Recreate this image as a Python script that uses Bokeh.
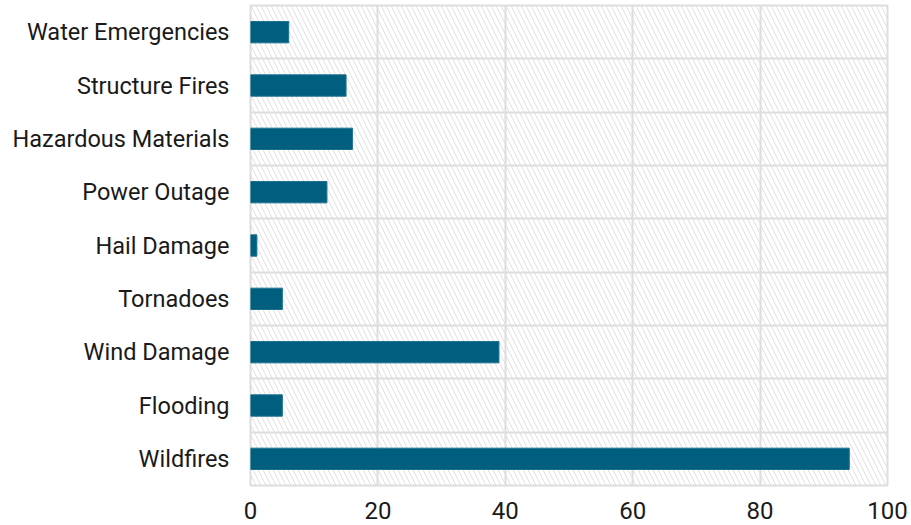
from bokeh.plotting import figure
from bokeh.models import FixedTicker, BoxAnnotation, ColumnDataSource
from bokeh.embed import file_html
from bokeh.resources import INLINE

categories = ["Wildfires", "Flooding", "Wind Damage", "Tornadoes", "Hail Damage",
              "Power Outage", "Hazardous Materials", "Structure Fires", "Water Emergencies"]
counts = [94, 5, 39, 5, 1, 12, 16, 15, 6]
x_ticks = [0, 20, 40, 60, 80, 100]

pos = list(range(len(categories)))
src = ColumnDataSource(dict(y=pos, right=counts, cat=categories))

p = figure(width=911, height=525, output_backend="svg", toolbar_location=None,
           x_range=(0, 100), y_range=(-0.5, len(categories) - 0.5),
           min_border_left=250, min_border_right=24, min_border_top=5, min_border_bottom=40)

p.add_layout(BoxAnnotation(fill_alpha=0, hatch_pattern="left_diagonal_line",
                           hatch_color="#e0e0e0", hatch_scale=10, hatch_weight=1,
                           line_alpha=0, level="underlay"))

p.hbar(y="y", left=0, right="right", height=0.4, source=src,
       fill_color="#005f7f", line_color="#1b7090", line_width=1)

p.outline_line_color = "#dddddd"
p.outline_line_width = 2

p.xaxis.ticker = FixedTicker(ticks=x_ticks)
p.xaxis.axis_line_color = None
p.xaxis.major_tick_line_color = None
p.xaxis.minor_tick_line_color = None
p.xaxis.major_label_text_font = "Roboto"
p.xaxis.major_label_text_font_size = "24px"
p.xaxis.major_label_text_color = "#1a1a1a"
p.xaxis.major_label_standoff = 10

p.yaxis.ticker = FixedTicker(ticks=pos)
p.yaxis.major_label_overrides = {i: c for i, c in zip(pos, categories)}
p.yaxis.axis_line_color = None
p.yaxis.major_tick_line_color = None
p.yaxis.minor_tick_line_color = None
p.yaxis.major_label_text_font = "Roboto"
p.yaxis.major_label_text_font_size = "23.5px"
p.yaxis.major_label_text_color = "#1a1a1a"
p.yaxis.major_label_standoff = 15

p.xgrid.ticker = FixedTicker(ticks=x_ticks)
p.xgrid.grid_line_color = "#dddddd"
p.xgrid.grid_line_width = 2
p.ygrid.ticker = FixedTicker(ticks=[i + 0.5 for i in pos[:-1]])
p.ygrid.grid_line_color = "#dddddd"
p.ygrid.grid_line_width = 2

open("out.html", "w").write(file_html(p, INLINE))
